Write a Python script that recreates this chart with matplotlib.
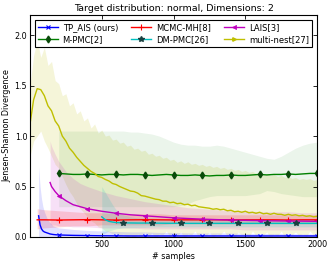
import matplotlib
matplotlib.use("Agg")
import matplotlib.pyplot as plt

# TP_AIS (ours)
tp_x = [60, 70, 80, 90, 100, 120, 140, 160, 180] + list(range(200, 2001, 100))
tp_y = [0.21, 0.12, 0.08, 0.06, 0.05, 0.04, 0.03, 0.025, 0.022,
        0.02, 0.016, 0.014, 0.012, 0.011, 0.01, 0.01, 0.01, 0.01, 0.01,
        0.01, 0.01, 0.01, 0.01, 0.01, 0.01, 0.01, 0.01, 0.01]
tp_lo = [0.0] * len(tp_x)
tp_hi = [0.70, 0.50, 0.38, 0.30, 0.25, 0.18, 0.14, 0.11, 0.10,
         0.09, 0.075, 0.065, 0.06, 0.055, 0.05, 0.05, 0.045, 0.045, 0.04,
         0.04, 0.04, 0.04, 0.035, 0.035, 0.035, 0.035, 0.03, 0.03]

# MCMC-MH[8]
mh_x = [50] + list(range(100, 2001, 100))
mh_y = [0.17, 0.17, 0.168, 0.17, 0.172, 0.17, 0.168, 0.17, 0.171, 0.17, 0.169,
        0.17, 0.17, 0.171, 0.169, 0.17, 0.17, 0.17, 0.168, 0.17, 0.17]
mh_lo = [0.08, 0.09, 0.10, 0.11, 0.11, 0.12, 0.12, 0.12, 0.12, 0.12, 0.13,
         0.13, 0.13, 0.13, 0.13, 0.13, 0.13, 0.13, 0.13, 0.13, 0.13]
mh_hi = [0.28, 0.27, 0.26, 0.25, 0.24, 0.24, 0.23, 0.23, 0.23, 0.23, 0.22,
         0.22, 0.22, 0.22, 0.22, 0.22, 0.22, 0.22, 0.22, 0.22, 0.22]

# LAIS[3]
la_x = [140, 150, 175, 200, 250, 300, 350, 400, 500, 600, 700, 800, 900, 1000,
        1100, 1200, 1300, 1400, 1500, 1600, 1700, 1800, 1900, 2000]
la_y = [0.54, 0.50, 0.45, 0.41, 0.36, 0.32, 0.30, 0.28, 0.255, 0.235, 0.22, 0.21,
        0.20, 0.19, 0.183, 0.177, 0.172, 0.168, 0.165, 0.162, 0.16, 0.158, 0.157, 0.155]
la_lo = [0.13, 0.12, 0.12, 0.11, 0.11, 0.10, 0.10, 0.10, 0.09, 0.09, 0.09, 0.08,
         0.08, 0.08, 0.08, 0.08, 0.08, 0.08, 0.07, 0.07, 0.07, 0.07, 0.07, 0.07]
la_hi = [0.95, 0.90, 0.82, 0.75, 0.65, 0.58, 0.53, 0.50, 0.45, 0.41, 0.38, 0.35,
         0.33, 0.31, 0.29, 0.28, 0.27, 0.26, 0.26, 0.25, 0.25, 0.25, 0.24, 0.24]

# M-PMC[2]
mp_x = list(range(200, 2001, 50))
mp_y = [0.63, 0.625, 0.62, 0.62, 0.625, 0.62, 0.615, 0.62, 0.62, 0.615, 0.62, 0.62,
        0.615, 0.61, 0.615, 0.62, 0.615, 0.61, 0.61, 0.615, 0.61, 0.605, 0.61, 0.61,
        0.615, 0.61, 0.61, 0.615, 0.62, 0.615, 0.62, 0.62, 0.625, 0.62, 0.625, 0.63, 0.63]
mp_hi = [1.05, 1.05, 1.05, 1.05, 1.05, 1.05, 1.05, 1.05, 1.05, 1.05, 1.04, 1.04,
         1.03, 1.02, 1.00, 0.97, 0.94, 0.92, 0.91, 0.91, 0.90, 0.90, 0.91, 0.90,
         0.88, 0.86, 0.84, 0.82, 0.80, 0.78, 0.77, 0.80, 0.84, 0.88, 0.91, 0.93, 0.94]
mp_lo = [0.30, 0.30, 0.30, 0.30, 0.30, 0.30, 0.30, 0.30, 0.30, 0.30, 0.30, 0.30,
         0.30, 0.30, 0.30, 0.30, 0.30, 0.31, 0.33, 0.36, 0.38, 0.40, 0.41, 0.41,
         0.41, 0.41, 0.41, 0.42, 0.43, 0.46, 0.45, 0.43, 0.42, 0.41, 0.40, 0.40, 0.40]

# DM-PMC[26]
dm_x = [500, 525, 550, 575, 600] + list(range(650, 2001, 50))
dm_y = [0.20, 0.17, 0.155, 0.148, 0.143, 0.14, 0.139, 0.138, 0.138, 0.137, 0.137,
        0.136, 0.136, 0.136, 0.135, 0.135, 0.135, 0.135, 0.135, 0.135, 0.135, 0.135,
        0.135, 0.135, 0.135, 0.135, 0.135, 0.135, 0.135, 0.135, 0.135, 0.135, 0.135]
dm_hi = [0.50, 0.44, 0.38, 0.32, 0.27, 0.22, 0.20, 0.19, 0.19, 0.19, 0.18,
         0.18, 0.18, 0.18, 0.18, 0.18, 0.18, 0.18, 0.18, 0.18, 0.18, 0.18,
         0.18, 0.18, 0.18, 0.18, 0.18, 0.18, 0.18, 0.18, 0.18, 0.18, 0.18]
dm_lo = [0.02, 0.04, 0.06, 0.07, 0.08, 0.09, 0.09, 0.095, 0.095, 0.1, 0.1,
         0.1, 0.1, 0.1, 0.1, 0.1, 0.1, 0.1, 0.1, 0.1, 0.1, 0.1,
         0.1, 0.1, 0.1, 0.1, 0.1, 0.1, 0.1, 0.1, 0.1, 0.1, 0.1]

# multi-nest[27]
mn_x = list(range(0, 2001, 25))
mn_y = [1.12, 1.36, 1.47, 1.46, 1.40, 1.30, 1.25, 1.15, 1.10, 1.00, 0.95, 0.88,
        0.84, 0.79, 0.75, 0.71, 0.68, 0.65, 0.63, 0.60, 0.59,
        0.57, 0.555, 0.53, 0.52, 0.50, 0.485, 0.47, 0.455, 0.45, 0.435, 0.41, 0.405,
        0.395, 0.385, 0.375, 0.37, 0.355, 0.355, 0.34, 0.345, 0.33, 0.335, 0.32, 0.325,
        0.31, 0.315, 0.30, 0.295, 0.29, 0.285, 0.275, 0.28, 0.27, 0.275, 0.26, 0.265,
        0.25, 0.255, 0.245, 0.255, 0.24, 0.245, 0.235, 0.245, 0.23, 0.235, 0.225, 0.235,
        0.225, 0.225, 0.215, 0.225, 0.215, 0.22, 0.21, 0.215, 0.205, 0.21, 0.20, 0.205]
mn_hi = [1.50, 1.80, 1.95, 1.78, 1.88, 1.70, 1.74, 1.55, 1.52, 1.40, 1.42, 1.30,
         1.33, 1.22, 1.25, 1.15, 1.18, 1.08, 1.12, 1.03, 1.06,
         1.00, 1.01, 0.96, 0.97, 0.93, 0.94, 0.90, 0.91, 0.87, 0.88, 0.85, 0.86,
         0.82, 0.83, 0.80, 0.81, 0.78, 0.79, 0.76, 0.77, 0.74, 0.755, 0.73, 0.745,
         0.72, 0.73, 0.71, 0.72, 0.70, 0.71, 0.69, 0.70, 0.68, 0.69, 0.67, 0.68,
         0.66, 0.67, 0.65, 0.66, 0.64, 0.65, 0.63, 0.64, 0.62, 0.63, 0.61, 0.62,
         0.60, 0.61, 0.59, 0.60, 0.58, 0.59, 0.57, 0.58, 0.57, 0.58, 0.56, 0.57]
mn_lo = [0.80, 0.95, 1.00, 1.05, 0.95, 0.88, 0.80, 0.72, 0.68, 0.60, 0.52, 0.45,
         0.40, 0.33, 0.28, 0.24, 0.20, 0.16, 0.14, 0.10, 0.09, 0.06, 0.05, 0.03,
         0.04, 0.01, 0.03, 0.00, 0.02, -0.01, 0.03, 0.00, 0.05, 0.01, 0.04, -0.01,
         0.03, 0.02, 0.06, 0.00, 0.04, 0.01, 0.05, -0.01, 0.03, 0.02, 0.06, 0.00,
         0.04, 0.01, 0.05, 0.00, 0.03, 0.02, 0.06, 0.01, 0.04, -0.01, 0.05, 0.02,
         0.03, 0.00, 0.06, 0.01, 0.04, 0.02, 0.05, -0.01, 0.03, 0.01, 0.06, 0.00,
         0.04, 0.02, 0.05, 0.01, 0.03, 0.00, 0.06, 0.02, 0.04]

plt.rcParams["font.family"] = "DejaVu Sans"
fig = plt.figure(figsize=(3.32, 2.63), dpi=100)
ax = fig.add_axes([0.0904, 0.0989, 0.8646, 0.8441])


def marks(xs, start, step):
    return [i for i, v in enumerate(xs) if v >= start and (v - start) % step == 0]


# bands
ax.fill_between(mn_x, mn_lo, mn_hi, color="y", alpha=0.15, lw=0)
ax.fill_between(mp_x, mp_lo, mp_hi, color="g", alpha=0.08, lw=0)
ax.fill_between(la_x, la_lo, la_hi, color="m", alpha=0.12, lw=0)
ax.fill_between(mh_x, mh_lo, mh_hi, color="r", alpha=0.15, lw=0)
ax.fill_between(dm_x, dm_lo, dm_hi, color="c", alpha=0.15, lw=0)
ax.fill_between(tp_x, tp_lo, tp_hi, color="b", alpha=0.12, lw=0)

# lines
h_tp, = ax.plot(tp_x, tp_y, color="b", lw=1, marker="x", ms=3, mew=0.8,
                markevery=marks(tp_x, 200, 200), label="TP_AIS (ours)")
h_mh, = ax.plot(mh_x, mh_y, color="r", lw=1, marker="+", ms=4, mew=0.8,
                markevery=marks(mh_x, 200, 200), label="MCMC-MH[8]")
h_la, = ax.plot(la_x, la_y, color="m", lw=1, marker="<", ms=3, mew=0.5,
                markevery=marks(la_x, 200, 200), label="LAIS[3]")
h_mp, = ax.plot(mp_x, mp_y, color="g", lw=1, marker="d", ms=3.5, mfc="#0a4a0a",
                mec="#0a4a0a", markevery=marks(mp_x, 200, 200), label="M-PMC[2]")
h_dm, = ax.plot(dm_x, dm_y, color="c", lw=1, marker="*", ms=4, mfc="#1a4040",
                mec="#1a4040", markevery=marks(dm_x, 650, 200), label="DM-PMC[26]")
h_mn, = ax.plot(mn_x, mn_y, color="y", lw=1, label="multi-nest[27]")
h_mn_leg, = ax.plot([], [], color="y", lw=1, marker=">", ms=2.5, label="multi-nest[27]")

ax.set_xlim(0, 2000)
ax.set_ylim(0, 2.2)
ax.set_xticks([500, 1000, 1500, 2000])
ax.set_yticks([0.0, 0.5, 1.0, 1.5, 2.0])
ax.set_yticklabels(["0.0", "0.5", "1.0", "1.5", "2.0"])
ax.tick_params(direction="in", top=True, right=True, labelsize=5.8, length=3, width=0.6, pad=2)
for s in ax.spines.values():
    s.set_linewidth(0.8)

ax.set_xlabel("# samples", fontsize=5.8, labelpad=2)
ax.set_ylabel("Jensen-Shannon Divergence", fontsize=5.8, labelpad=2)
ax.set_title("Target distribution: normal, Dimensions: 2", fontsize=6.8, pad=3)

leg = ax.legend([h_tp, h_mp, h_mh, h_dm, h_la, h_mn_leg],
                ["TP_AIS (ours)", "M-PMC[2]", "MCMC-MH[8]", "DM-PMC[26]", "LAIS[3]", "multi-nest[27]"],
                ncol=3, loc="upper center", bbox_to_anchor=(0.5, 0.995), fontsize=6,
                fancybox=False, framealpha=1, edgecolor="black", handlelength=2.4,
                columnspacing=1.6, borderpad=0.35, labelspacing=0.3, handletextpad=0.6)
leg.get_frame().set_linewidth(0.8)

fig.savefig("out.png", dpi=100)
